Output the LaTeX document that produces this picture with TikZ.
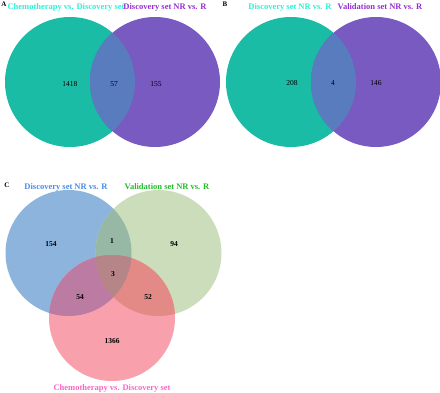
\documentclass[tikz,border=0pt]{standalone}
\usepackage{fontspec}
\setmainfont{Liberation Serif}
\usepackage{xcolor}
\usepackage{tikz}
\definecolor{tl}{RGB}{26,188,166}
\definecolor{pu}{RGB}{120,90,192}
\definecolor{tp}{RGB}{88,124,190}
\definecolor{bl}{RGB}{140,180,220}
\definecolor{gr}{RGB}{204,221,187}
\definecolor{pk}{RGB}{248,160,172}
\definecolor{bg}{RGB}{150,184,165}
\definecolor{bp}{RGB}{187,123,163}
\definecolor{gp}{RGB}{227,138,134}
\definecolor{bgp}{RGB}{181,133,136}
\definecolor{tcy}{RGB}{45,240,215}
\definecolor{tpu}{RGB}{150,45,210}
\definecolor{tbl}{RGB}{70,140,235}
\definecolor{tgr}{RGB}{35,190,40}
\definecolor{tpk}{RGB}{250,100,200}

\begin{document}
\begin{tikzpicture}[x=1pt,y=-1pt,
					title/.style = {font=\fontsize{8.5}{10}\selectfont\bfseries},
					num/.style = {font=\fontsize{7.5}{9}\selectfont},
					cnum/.style = {font=\fontsize{7.5}{9}\selectfont\bfseries},
					tag/.style = {font=\fontsize{7}{8}\selectfont\bfseries}]
	\useasboundingbox (0,0) rectangle (440,393);
	% panel A
	\coordinate (a1) at (70,82);
	\coordinate (a2) at (155,82);
	\fill[tl] (a1) circle (65);
	\fill[pu] (a2) circle (65);
	\begin{scope}
		\clip (a1) circle (65);
		\fill[tp] (a2) circle (65);
	\end{scope}
	\node[tag] (tagA) at (4,4) {A};
	\node[title, text=tcy] (tA1) at (66,7) {Chemotherapy vs. Discovery set};
	\node[title, text=tpu] (tA2) at (165,7) {Discovery set NR vs. R};
	\node[num] (nA1) at (70,84) {1418};
	\node[num] (nA2) at (114,84) {57};
	\node[num] (nA3) at (156,84) {155};
	% panel B
	\coordinate (b1) at (291,82);
	\coordinate (b2) at (376,82);
	\fill[tl] (b1) circle (65);
	\fill[pu] (b2) circle (65);
	\begin{scope}
		\clip (b1) circle (65);
		\fill[tp] (b2) circle (65);
	\end{scope}
	\node[tag] (tagB) at (225,4) {B};
	\node[title, text=tcy] (tB1) at (290,7) {Discovery set NR vs. R};
	\node[title, text=tpu] (tB2) at (380,7) {Validation set NR vs. R};
	\node[num] (nB1) at (292,83) {208};
	\node[num] (nB2) at (333,83) {4};
	\node[num] (nB3) at (376,83) {146};
	% panel C
	\coordinate (c1) at (68.5,253);
	\coordinate (c2) at (158.5,253);
	\coordinate (c3) at (112,318);
	\fill[bl] (c1) circle (63);
	\fill[gr] (c2) circle (63);
	\fill[pk] (c3) circle (63);
	\begin{scope}
		\clip (c1) circle (63);
		\fill[bg] (c2) circle (63);
		\fill[bp] (c3) circle (63);
	\end{scope}
	\begin{scope}
		\clip (c2) circle (63);
		\fill[gp] (c3) circle (63);
		\clip (c1) circle (63);
		\fill[bgp] (c3) circle (63);
	\end{scope}
	\node[tag] (tagC) at (7,185) {C};
	\node[title, text=tbl] (tC1) at (66,187) {Discovery set NR vs. R};
	\node[title, text=tgr] (tC2) at (167,187) {Validation set NR vs. R};
	\node[title, text=tpk] (tC3) at (112,388) {Chemotherapy vs. Discovery set};
	\node[cnum] (nC1) at (51,244) {154};
	\node[cnum] (nC2) at (112,241) {1};
	\node[cnum] (nC3) at (174,244) {94};
	\node[cnum] (nC4) at (113,274) {3};
	\node[cnum] (nC5) at (80,297) {54};
	\node[cnum] (nC6) at (148,297) {52};
	\node[cnum] (nC7) at (112,341) {1366};
\end{tikzpicture}
\end{document}
